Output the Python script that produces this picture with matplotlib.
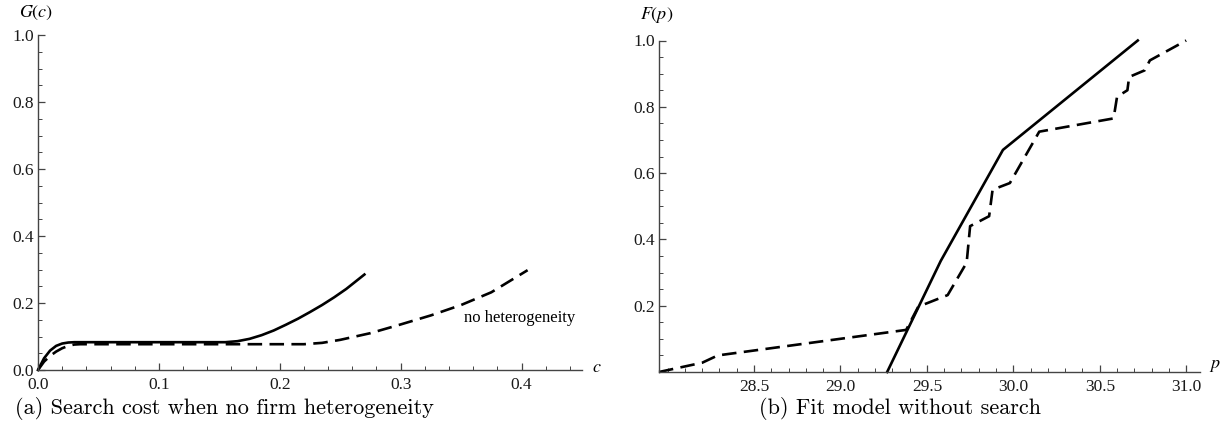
import matplotlib
matplotlib.use("Agg")
import matplotlib.pyplot as plt
import numpy as np
from matplotlib.ticker import MultipleLocator, FixedLocator, FormatStrFormatter

plt.rcParams['font.family'] = ['Liberation Serif', 'DejaVu Serif']
plt.rcParams['mathtext.fontset'] = 'stix'

# (a) search cost distribution G(c)
cost_c = [0, 0.005, 0.01, 0.015, 0.02, 0.025, 0.03, 0.155, 0.165, 0.175, 0.185, 0.195,
          0.205, 0.215, 0.225, 0.235, 0.245, 0.255, 0.27]
cost_g = [0, 0.035, 0.058, 0.072, 0.079, 0.082, 0.083, 0.083, 0.086, 0.093, 0.104, 0.118,
          0.135, 0.153, 0.173, 0.194, 0.217, 0.242, 0.285]
nohet_c = [0, 0.005, 0.01, 0.015, 0.02, 0.025, 0.03, 0.035, 0.22, 0.235, 0.25, 0.275, 0.30,
           0.325, 0.35, 0.375, 0.405]
nohet_g = [0, 0.025, 0.042, 0.055, 0.065, 0.072, 0.076, 0.077, 0.077, 0.081, 0.09, 0.11, 0.136,
           0.163, 0.194, 0.232, 0.298]

# (b) price distribution F(p): model fit vs data
fit_p = [29.27, 29.58, 29.94, 30.72]
fit_f = [0.0, 0.335, 0.67, 1.0]
data_p = [27.95, 28.20, 28.29, 29.38, 29.45, 29.62, 29.73, 29.75, 29.86, 29.88, 29.98,
          30.15, 30.58, 30.60, 30.66, 30.67, 30.76, 30.79, 31.0]
data_f = [0.0, 0.028, 0.05, 0.127, 0.197, 0.232, 0.33, 0.44, 0.47, 0.55, 0.57,
          0.725, 0.765, 0.83, 0.85, 0.89, 0.91, 0.94, 1.0]

W, H = 1223, 433
fig = plt.figure(figsize=(W / 100, H / 100), dpi=100)

def style(ax):
    for s in ['top', 'right']:
        ax.spines[s].set_visible(False)
    for s in ['left', 'bottom']:
        ax.spines[s].set_color('#444444')
        ax.spines[s].set_linewidth(1.0)
    ax.tick_params(which='both', direction='in', colors='#444444', labelcolor='#1a1a1a',
                   labelsize=12.5)
    ax.tick_params(which='major', length=5, width=0.9, pad=3)
    ax.tick_params(which='minor', length=3, width=0.7)
    ax.tick_params(axis='x', which='major', pad=5)

lw = 1.9
dash = (0, (5.5, 2.8))

# left panel
ax1 = fig.add_axes([38 / W, 1 - 370 / H, (582 - 38) / W, (370 - 35) / H])
style(ax1)
ax1.plot(cost_c, cost_g, color='black', lw=lw, clip_on=False)
ax1.plot(nohet_c, nohet_g, color='black', lw=lw, ls=dash, clip_on=False)
ax1.set_xlim(0, 0.45)
ax1.set_ylim(0, 1.0)
ax1.xaxis.set_major_locator(FixedLocator([0.0, 0.1, 0.2, 0.3, 0.4]))
ax1.xaxis.set_minor_locator(MultipleLocator(0.02))
ax1.yaxis.set_major_locator(MultipleLocator(0.2))
ax1.yaxis.set_minor_locator(MultipleLocator(0.05))
ax1.xaxis.set_major_formatter(FormatStrFormatter('%.1f'))
ax1.yaxis.set_major_formatter(FormatStrFormatter('%.1f'))
# keep the two "0.0" labels at the origin apart
ax1.get_yticklabels()[0].set_verticalalignment('bottom')
ax1.text(0.352, 0.155, 'no heterogeneity', fontsize=12, va='center', ha='left')

# right panel
ax2 = fig.add_axes([659 / W, 1 - 372 / H, (1200 - 659) / W, (372 - 40.5) / H])
style(ax2)
ax2.plot(fit_p, fit_f, color='black', lw=lw, clip_on=False)
ax2.plot(data_p, data_f, color='black', lw=lw, ls=dash, clip_on=False)
ax2.set_xlim(27.95, 31.08)
ax2.set_ylim(0, 1.0)
ax2.xaxis.set_major_locator(FixedLocator([28.5, 29.0, 29.5, 30.0, 30.5, 31.0]))
ax2.xaxis.set_minor_locator(FixedLocator(np.arange(28.0, 31.05, 0.1)))
ax2.yaxis.set_major_locator(FixedLocator([0.2, 0.4, 0.6, 0.8, 1.0]))
ax2.yaxis.set_minor_locator(MultipleLocator(0.05))
ax2.xaxis.set_major_formatter(FormatStrFormatter('%.1f'))
ax2.yaxis.set_major_formatter(FormatStrFormatter('%.1f'))

# axis labels
fig.text(36 / W, 1 - 13 / H, r'$G(c)$', fontsize=13, ha='center', va='center')
fig.text(597 / W, 1 - 368 / H, r'$c$', fontsize=13, ha='center', va='center')
fig.text(657 / W, 1 - 15 / H, r'$F(p)$', fontsize=13, ha='center', va='center')
fig.text(1215 / W, 1 - 365 / H, r'$p$', fontsize=13, ha='center', va='center')

# captions
fig.text(224 / W, 1 - 409 / H, '(a) Search cost when no firm heterogeneity',
         family='cmr10', fontsize=16, ha='center', va='center')
fig.text(900 / W, 1 - 409 / H, '(b) Fit model without search',
         family='cmr10', fontsize=16, ha='center', va='center')

fig.savefig('out.png', dpi=100)
